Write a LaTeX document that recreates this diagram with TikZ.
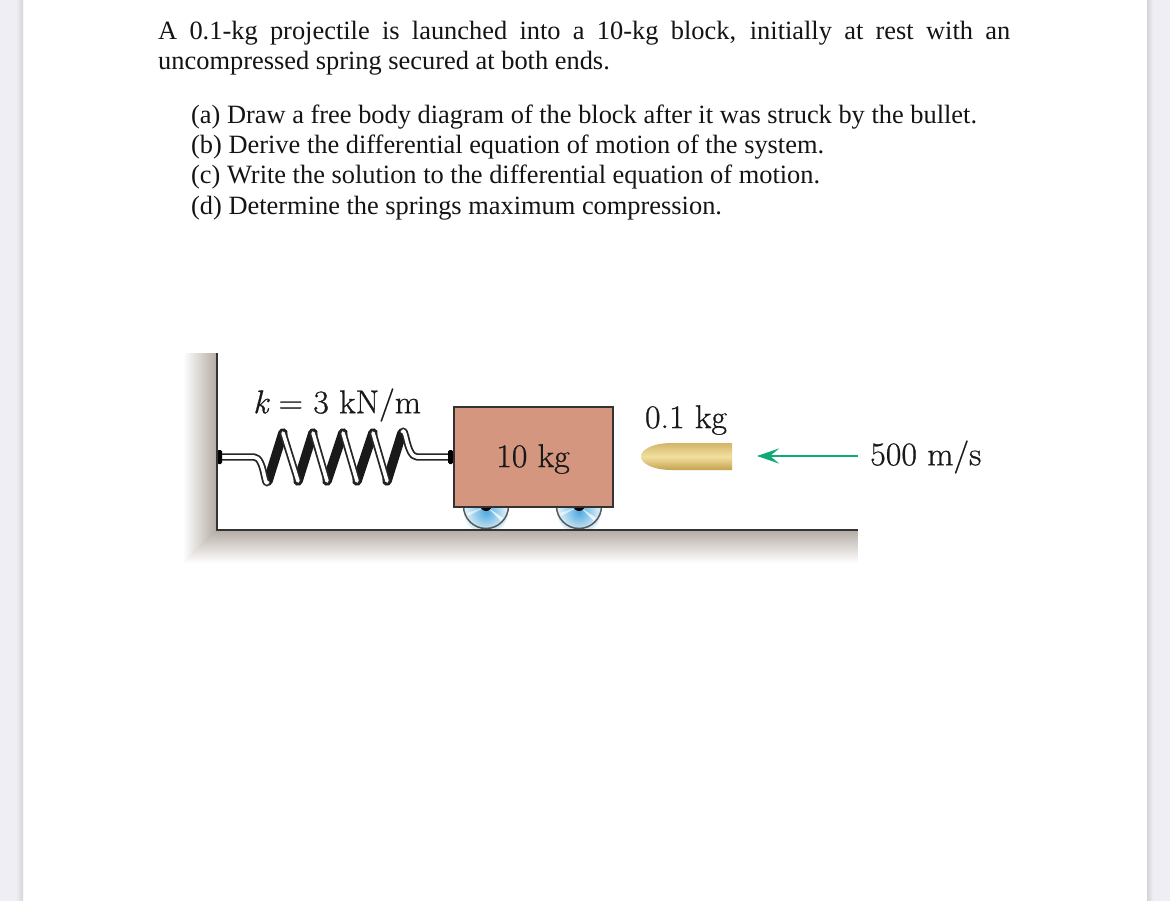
\documentclass[tikz,border=0pt]{standalone}
\usepackage{fontspec}
\newfontfamily\bodyfont{Liberation Serif}
\newfontfamily\figfont[FakeBold=0.7,FakeStretch=1.03]{Latin Modern Roman}
\usetikzlibrary{arrows.meta}
\definecolor{sidebar}{HTML}{EEEEF4}
\definecolor{sideedge}{HTML}{D4D4DA}
\definecolor{shadowc}{HTML}{B5ADA5}
\definecolor{blockc}{HTML}{D4967F}
\definecolor{greenc}{HTML}{10AB74}
\definecolor{wheelc}{HTML}{4FA9DE}
\definecolor{wheelp}{HTML}{E6F4FA}
\definecolor{goldl}{HTML}{F2E0A0}
\definecolor{goldd}{HTML}{C4A24E}
\tikzset{
  bodytext/.style={anchor=base west,inner sep=0pt,font=\bodyfont\fontsize{26.4}{30}\selectfont,text=black!92},
  figtext/.style={inner sep=0pt,font=\figfont\fontsize{33}{35}\selectfont,text=black!90},
  springback/.style={line width=9.5pt,line cap=round,line join=round,black!90},
  wireout/.style={line width=7.2pt,line cap=round,line join=round,black!85},
  wirein/.style={line width=3.6pt,line cap=round,line join=round,white},
  edgeline/.style={line width=2.2pt,black!80}
}
\begin{document}
\begin{tikzpicture}[x=1pt,y=-1pt]
\useasboundingbox (0,0) rectangle (1170,901);
% page
\fill[white] (0,0) rectangle (1170,901);
\fill[sidebar] (0,0) rectangle (18,901);
\fill[left color=sidebar,right color=sideedge] (16,0) rectangle (23,901);
\fill[sidebar] (1152,0) rectangle (1170,901);
\fill[left color=sideedge,right color=sidebar] (1147,0) rectangle (1153,901);
% text
\node[bodytext] (l1) at (158,39.5) {\makebox[852pt][s]{A 0.1-kg projectile is launched into a 10-kg block, initially at rest with an}};
\node[bodytext] (l2) at (158,69.5) {uncompressed spring secured at both ends.};
\node[bodytext] (qa) at (191,123.5) {(a) Draw a free body diagram of the block after it was struck by the bullet.};
\node[bodytext] (qb) at (191,153.5) {(b) Derive the differential equation of motion of the system.};
\node[bodytext] (qc) at (191,183.5) {(c) Write the solution to the differential equation of motion.};
\node[bodytext] (qd) at (191,214.5) {(d) Determine the springs maximum compression.};
% wall and floor shadow: nested L-shaped strips, outer to inner
\foreach \d in {33,32,...,0}{
  \pgfmathsetmacro{\shadepct}{100-100*\d/33}
  \draw[shadowc!\shadepct!white,line width=1.3pt,line join=miter,line cap=butt]
    (217-\d,353) -- (217-\d,530+\d) -- (858,530+\d);
}
% wheels
\foreach \cx in {486,579}{
  \begin{scope}
    \clip (\cx-25,507) rectangle (\cx+25,530);
    \shade[inner color=wheelc,outer color=wheelp] (\cx,512) circle (22);
    \fill[white,opacity=.75] (\cx+1,507) -- (\cx+17,518) -- (\cx+15,521) -- cycle;
    \fill[white,opacity=.6] (\cx-1,507) -- (\cx-19,513) -- (\cx-18,516) -- cycle;
    \draw[line width=1.5pt,black!65] (\cx,506) circle (22.5);
    \fill[black] (\cx,505) circle (6);
  \end{scope}
}
% coordinates for the connectors
\coordinate (wallp) at (218,457);
\coordinate (blockp) at (453,457);
% spring
\draw[springback] (268,481) -- (283,433);
\draw[springback] (298,481) -- (313,433);
\draw[springback] (327,481) -- (343,433);
\draw[springback] (357,481) -- (373,433);
\draw[springback] (387,481) -- (402,433);
\foreach \sty in {wireout,wirein}{
  \draw[\sty,line cap=butt] (wallp) -- (254,457) to[out=0,in=-110] (268,481);
  \draw[\sty] (283,433) -- (298,481);
  \draw[\sty] (313,433) -- (327,481);
  \draw[\sty] (343,433) -- (357,481);
  \draw[\sty] (373,433) -- (387,481);
  \draw[\sty,line cap=butt] (402,433) to[out=70,in=180] (417,457) -- (blockp);
}
\fill[black,rounded corners=1.5pt] (217,450) rectangle (222,464);
\fill[black,rounded corners=1.5pt] (448,450) rectangle (453,464);
% wall and floor lines
\draw[edgeline,line join=miter] (217,353) -- (217,530) -- (858,530);
% block
\node[draw=black!80,line width=2pt,fill=blockc,minimum width=159pt,minimum height=100pt,inner sep=0pt,outer sep=0pt] (block) at (533,456.5) {};
\node[figtext] (mass) at (533,459) {10 kg};
% labels
\node[figtext] (kl) at (337,405) {\itshape k\upshape{} = 3 kN/m};
\node[figtext] (ml) at (686,420) {0.1 kg};
% bullet
\shade[top color=goldd!70!goldl,bottom color=goldd,middle color=goldl]
  (732,443) -- (672,443) .. controls (652,443) and (641,450) .. (641,456.5) .. controls (641,463) and (652,470) .. (672,470) -- (732,470) -- cycle;
\coordinate (bullet) at (641,456.5);
% velocity arrow
\node[figtext,anchor=west] (vl) at (870,457) {500 m/s};
\coordinate (arrowtail) at (858,456);
\coordinate (arrowtip) at (757,456);
\draw[greenc,line width=2.8pt,-{Stealth[length=22pt,width=15pt,inset=9pt]}] (arrowtail) -- (arrowtip);
\end{tikzpicture}
\end{document}
